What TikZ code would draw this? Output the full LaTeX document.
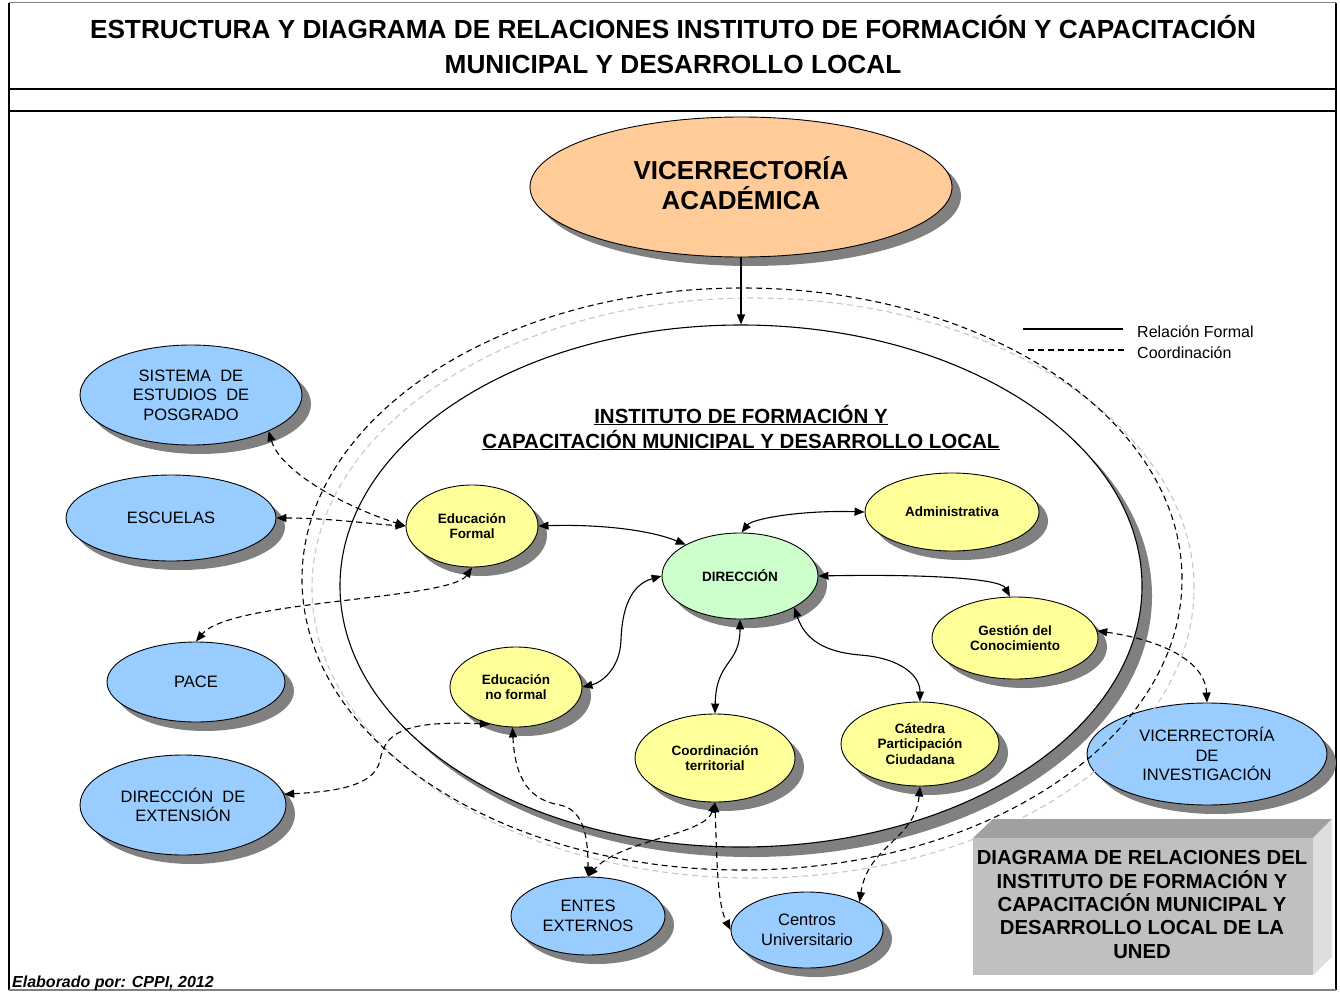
\documentclass[tikz,border=0pt]{standalone}
\usepackage{fontspec}
\setmainfont{Liberation Sans}
\usetikzlibrary{shapes.geometric,arrows.meta,shadows}
\definecolor{orangeF}{HTML}{FFCC99}
\definecolor{blueF}{HTML}{99CCFF}
\definecolor{yellowF}{HTML}{FFFF99}
\definecolor{greenF}{HTML}{CCFFCC}
\definecolor{shadowG}{HTML}{808080}
\definecolor{ringG}{HTML}{C8C8C8}
\definecolor{boxFront}{HTML}{C0C0C0}
\definecolor{boxTop}{HTML}{A0A0A0}
\definecolor{boxSide}{HTML}{DEDEDE}
\begin{document}
\begin{tikzpicture}[x=1pt,y=-1pt,
  nd/.style={ellipse, draw, line width=0.9pt, inner sep=0pt, align=center,
    drop shadow={shadow xshift=9pt, shadow yshift=-9pt, fill=shadowG, opacity=1}},
  bluen/.style={nd, fill=blueF, font=\fontsize{16.5}{19.5}\selectfont},
  yeln/.style={nd, fill=yellowF, font=\bfseries\fontsize{13.5}{15.5}\selectfont},
  formal/.style={line width=1.1pt, {Triangle[length=10pt,width=8pt]}-{Triangle[length=10pt,width=8pt]}},
  formalone/.style={line width=1.1pt, -{Triangle[length=10pt,width=8pt]}},
  coordln/.style={formal, dash pattern=on 6pt off 4pt},
  legtext/.style={anchor=base west, inner sep=0pt, font=\fontsize{16}{19}\selectfont},
]
\useasboundingbox (0,0) rectangle (1340,992);
\fill[white] (0,0) rectangle (1340,992);

% frame
\draw[gray, line width=1pt] (9,3) -- (1336,3);
\draw[line width=1.3pt] (9,3) -- (9,990);
\draw[line width=1.3pt] (1336,3) -- (1336,990);
\draw[line width=2.5pt] (9,89) -- (1336,89);
\draw[line width=2.5pt] (9,111) -- (1336,111);
\draw[gray, line width=1.2pt] (9,990) -- (1336,990);

% title
\node[anchor=base, inner sep=0pt, font=\bfseries\fontsize{26.2}{30}\selectfont] (t1) at (673,39)
  {ESTRUCTURA Y DIAGRAMA DE RELACIONES INSTITUTO DE FORMACIÓN Y CAPACITACIÓN};
\node[anchor=base, inner sep=0pt, font=\bfseries\fontsize{26.2}{30}\selectfont] (t2) at (673,74)
  {MUNICIPAL Y DESARROLLO LOCAL};

% top node
\node[nd, fill=orangeF, minimum width=422pt, minimum height=140pt] (va) at (741,187) {};
\node[anchor=base, inner sep=0pt, font=\bfseries\fontsize{26}{30}\selectfont] (va1) at (741,180) {VICERRECTORÍA};
\node[anchor=base, inner sep=0pt, font=\bfseries\fontsize{26}{30}\selectfont] (va2) at (741,210) {ACADÉMICA};

% outer blue nodes
\node[bluen, minimum width=222pt, minimum height=100pt] (sis) at (191,395) {SISTEMA~ DE\\ESTUDIOS~ DE\\POSGRADO};
\node[bluen, minimum width=210pt, minimum height=86pt] (esc) at (171,518) {ESCUELAS};
\node[bluen, minimum width=178pt, minimum height=80pt] (pac) at (196,682) {PACE};
\node[bluen, minimum width=206pt, minimum height=100pt] (dex) at (183,805) {DIRECCIÓN~ DE\\EXTENSIÓN};
\node[bluen, minimum width=154pt, minimum height=78pt] (ent) at (588,916) {ENTES\\EXTERNOS};
\node[bluen, minimum width=152pt, minimum height=76pt] (cen) at (807,930) {Centros\\Universitario};
\node[bluen, minimum width=240pt, minimum height=102pt] (vin) at (1207,754) {VICERRECTORÍA\\DE\\INVESTIGACIÓN};

% dashed rings
\draw[ringG, line width=1.1pt, dash pattern=on 6pt off 4pt] (753,588) ellipse [x radius=441pt, y radius=290pt];
\draw[black, line width=1.1pt, dash pattern=on 6pt off 4pt] (742,579) ellipse [x radius=440pt, y radius=291pt];

% institute
\node[nd, fill=white, line width=1.1pt, minimum width=802pt, minimum height=522pt,
  drop shadow={shadow xshift=10pt, shadow yshift=-10pt, fill=shadowG, opacity=1}] (inst) at (741,586) {};
\node[anchor=base, inner sep=0pt, font=\bfseries\fontsize{20.5}{24}\selectfont] (it1) at (741,423) {\underline{INSTITUTO DE FORMACIÓN Y}};
\node[anchor=base, inner sep=0pt, font=\bfseries\fontsize{20.5}{24}\selectfont] (it2) at (741,448) {\underline{CAPACITACIÓN MUNICIPAL Y DESARROLLO LOCAL}};

% inner nodes
\node[yeln, minimum width=132pt, minimum height=82pt] (ef) at (472,526) {Educación\\Formal};
\node[nd, fill=greenF, font=\bfseries\fontsize{13.5}{15.5}\selectfont, minimum width=156pt, minimum height=86pt] (dir) at (740,576) {DIRECCIÓN};
\node[yeln, minimum width=174pt, minimum height=78pt] (adm) at (952,512) {Administrativa};
\node[yeln, minimum width=166pt, minimum height=82pt] (ges) at (1015,638) {Gestión del\\Conocimiento};
\node[yeln, minimum width=132pt, minimum height=80pt] (edn) at (516,687) {Educación\\no formal};
\node[yeln, minimum width=160pt, minimum height=88pt] (coo) at (715,758) {Coordinación\\territorial};
\node[yeln, minimum width=158pt, minimum height=84pt] (cat) at (920,744) {Cátedra\\Participación\\Ciudadana};

% formal relations
\draw[formalone] (va.south) -- (inst.north);
\draw[formal] (ef.east) .. controls (600,524) and (650,530) .. (dir.150);
\draw[formal] (dir.88) .. controls (752,519) and (800,510) .. (adm.west);
\draw[formal] (dir.east) .. controls (920,574) and (1000,578) .. (ges.97);
\draw[formal] (dir.-30) .. controls (805,640) and (825,652) .. (860,655) .. controls (900,658) and (920,675) .. (cat.north);
\draw[formal] (dir.south) .. controls (740,665) and (716,660) .. (coo.north);
\draw[formal] (dir.west) .. controls (630,585) and (622,610) .. (621,640) .. controls (620,670) and (600,683) .. (edn.east);

% coordination
\draw[coordln] (sis.-25) .. controls (280,470) and (340,505) .. (ef.west);
\draw[coordln] (esc.east) .. controls (330,518) and (370,524) .. (ef.west);
\draw[coordln] (ef.south) .. controls (450,600) and (230,600) .. (pac.north);
\draw[coordln] (edn.-125) .. controls (400,720) and (385,735) .. (380,760) .. controls (375,790) and (320,792) .. (dex.6);
\draw[coordln] (edn.-95) .. controls (515,780) and (530,800) .. (560,805) .. controls (585,810) and (588,840) .. (ent.north);
\draw[coordln] (coo.south) .. controls (705,835) and (620,840) .. (ent.north);
\draw[coordln] (coo.south) .. controls (717,870) and (718,905) .. (cen.west);
\draw[coordln] (cat.south) .. controls (915,840) and (868,845) .. (cen.28);
\draw[coordln] (ges.5) .. controls (1160,640) and (1205,660) .. (vin.north);

% legend
\coordinate (l1a) at (1023,329); \coordinate (l1b) at (1123,329);
\coordinate (l2a) at (1028,350); \coordinate (l2b) at (1125,350);
\draw[line width=1.1pt] (l1a) -- (l1b);
\draw[line width=1.1pt, dash pattern=on 6pt off 4pt] (l2a) -- (l2b);
\node[legtext] (lg1) at (1137,337) {Relación Formal};
\node[legtext] (lg2) at (1137,358) {Coordinación};

% 3D box
\fill[boxTop] (973,838) -- (993,819) -- (1332,819) -- (1313,838) -- cycle;
\fill[boxSide] (1313,838) -- (1332,819) -- (1332,957) -- (1313,975) -- cycle;
\fill[boxFront] (973,838) rectangle (1313,975);
\node[align=center, inner sep=0pt, font=\bfseries\fontsize{20.3}{23.3}\selectfont] (boxt) at (1142,904.5)
  {DIAGRAMA DE RELACIONES DEL\\INSTITUTO DE FORMACIÓN Y\\CAPACITACIÓN MUNICIPAL Y\\DESARROLLO LOCAL DE LA\\UNED};

% footer
\node[anchor=base west, inner sep=0pt, font=\bfseries\itshape\fontsize{16}{19}\selectfont] (foot) at (12,987) {Elaborado por: CPPI, 2012};
\end{tikzpicture}
\end{document}
